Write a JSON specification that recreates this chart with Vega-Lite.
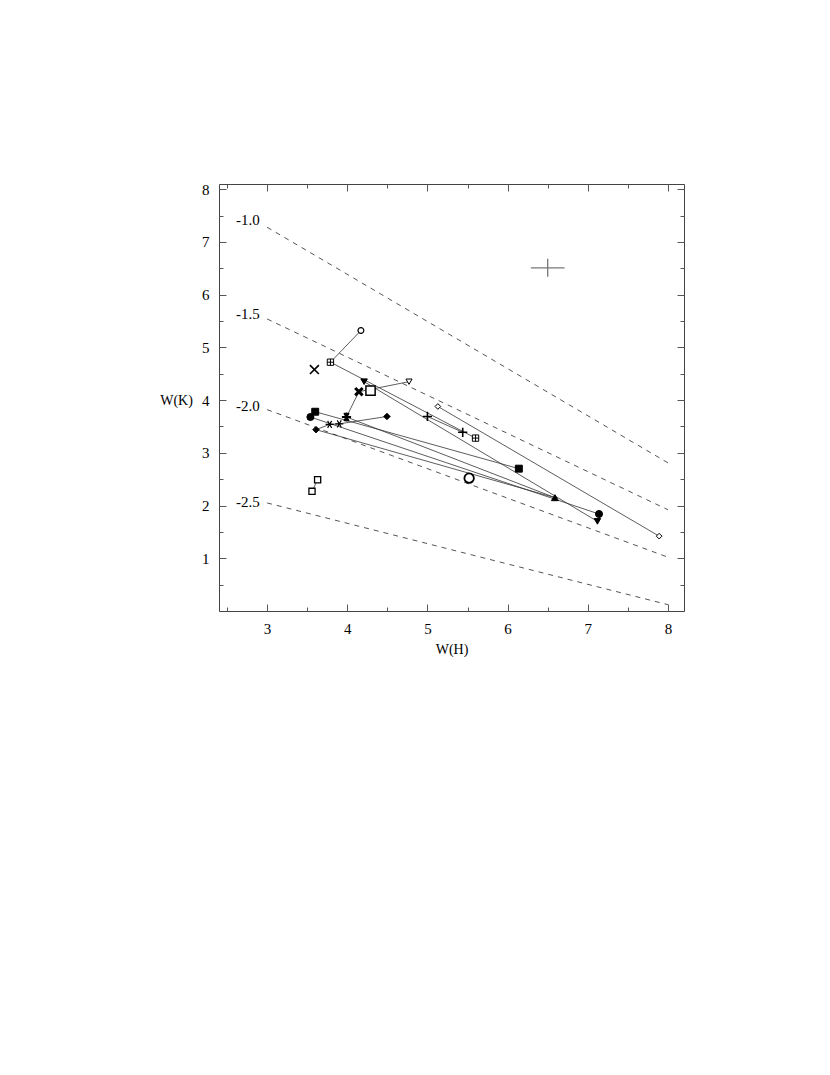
{
  "$schema": "https://vega.github.io/schema/vega-lite/v6.json",
  "width": 465,
  "height": 427,
  "autosize": {"type": "none"},
  "padding": {"left": 219, "top": 184, "right": 146, "bottom": 464},
  "background": "white",
  "config": {
    "view": {"stroke": "#444", "strokeWidth": 1},
    "font": "Liberation Serif",
    "axis": {
      "labelFont": "Liberation Serif", "titleFont": "Liberation Serif",
      "labelFontSize": 15, "titleFontSize": 14, "titleFontWeight": "normal",
      "labelColor": "black", "titleColor": "black",
      "domain": false, "grid": false, "tickColor": "#555", "tickWidth": 1
    }
  },
  "datasets": {
    "iso": [
      {"feh": "-1.0", "x": 3, "y": 7.28}, {"feh": "-1.0", "x": 8, "y": 2.81},
      {"feh": "-1.5", "x": 3, "y": 5.54}, {"feh": "-1.5", "x": 8, "y": 1.92},
      {"feh": "-2.0", "x": 3, "y": 3.82}, {"feh": "-2.0", "x": 8, "y": 1.02},
      {"feh": "-2.5", "x": 3, "y": 2.05}, {"feh": "-2.5", "x": 8, "y": 0.12}
    ],
    "isolab": [
      {"t": "-1.0", "x": 2.76, "y": 7.42},
      {"t": "-1.5", "x": 2.76, "y": 5.64},
      {"t": "-2.0", "x": 2.76, "y": 3.88},
      {"t": "-2.5", "x": 2.76, "y": 2.06}
    ],
    "err": [{"x": 6.29, "x2": 6.71, "xc": 6.5, "y": 6.34, "y2": 6.68, "yc": 6.51}],
    "seg": [
      {"s": 1, "o": 1, "x": 4.17, "y": 5.32}, {"s": 1, "o": 2, "x": 3.79, "y": 4.72},
      {"s": 2, "o": 1, "x": 3.79, "y": 4.72}, {"s": 2, "o": 2, "x": 5.60, "y": 3.28},
      {"s": 3, "o": 1, "x": 4.21, "y": 4.35}, {"s": 3, "o": 2, "x": 7.12, "y": 1.70},
      {"s": 4, "o": 1, "x": 5.00, "y": 3.69}, {"s": 4, "o": 2, "x": 5.44, "y": 3.39},
      {"s": 5, "o": 1, "x": 3.99, "y": 3.68}, {"s": 5, "o": 2, "x": 4.145, "y": 4.16}, {"s": 5, "o": 3, "x": 4.77, "y": 4.35},
      {"s": 6, "o": 1, "x": 3.61, "y": 3.44}, {"s": 6, "o": 2, "x": 3.78, "y": 3.54}, {"s": 6, "o": 3, "x": 3.90, "y": 3.55}, {"s": 6, "o": 4, "x": 4.495, "y": 3.69},
      {"s": 7, "o": 1, "x": 3.60, "y": 3.78}, {"s": 7, "o": 2, "x": 6.14, "y": 2.70},
      {"s": 8, "o": 1, "x": 3.54, "y": 3.68}, {"s": 8, "o": 2, "x": 7.14, "y": 1.84},
      {"s": 9, "o": 1, "x": 3.99, "y": 3.68}, {"s": 9, "o": 2, "x": 6.59, "y": 2.15},
      {"s": 10, "o": 1, "x": 3.61, "y": 3.44}, {"s": 10, "o": 2, "x": 6.59, "y": 2.15},
      {"s": 11, "o": 1, "x": 5.13, "y": 3.88}, {"s": 11, "o": 2, "x": 7.89, "y": 1.42},
      {"s": 12, "o": 1, "x": 3.63, "y": 2.49}, {"s": 12, "o": 2, "x": 3.56, "y": 2.27}
    ],
    "pts": [
      {"sym": "ocs", "x": 4.17, "y": 5.32},
      {"sym": "bplus", "x": 3.79, "y": 4.72}, {"sym": "bplus", "x": 5.60, "y": 3.28},
      {"sym": "bigx", "x": 3.59, "y": 4.58},
      {"sym": "tdf", "x": 4.21, "y": 4.35}, {"sym": "tdf", "x": 7.12, "y": 1.70},
      {"sym": "tdo", "x": 4.77, "y": 4.35},
      {"sym": "bigsq", "x": 4.29, "y": 4.18},
      {"sym": "boldx", "x": 4.145, "y": 4.16},
      {"sym": "bstar", "x": 3.99, "y": 3.68},
      {"sym": "dio", "x": 5.13, "y": 3.88}, {"sym": "dio", "x": 7.89, "y": 1.42},
      {"sym": "sqf", "x": 3.60, "y": 3.78}, {"sym": "sqf", "x": 6.14, "y": 2.70},
      {"sym": "cif", "x": 3.54, "y": 3.68}, {"sym": "cif", "x": 7.14, "y": 1.84},
      {"sym": "dif", "x": 3.61, "y": 3.44}, {"sym": "dif", "x": 4.495, "y": 3.69},
      {"sym": "plus", "x": 5.00, "y": 3.69}, {"sym": "plus", "x": 5.44, "y": 3.39},
      {"sym": "ast", "x": 3.78, "y": 3.54}, {"sym": "ast", "x": 3.90, "y": 3.55},
      {"sym": "tuf", "x": 6.59, "y": 2.15},
      {"sym": "sqo", "x": 3.63, "y": 2.49}, {"sym": "sqo", "x": 3.56, "y": 2.27},
      {"sym": "bigci", "x": 5.52, "y": 2.52}
    ]
  },
  "resolve": {"axis": {"x": "independent", "y": "independent"}},
  "layer": [
    {
      "data": {"name": "iso"},
      "mark": {"type": "line", "stroke": "#555", "strokeWidth": 1, "strokeDash": [5, 5]},
      "encoding": {
        "x": {"field": "x", "type": "quantitative",
              "scale": {"domain": [2.4, 8.2], "nice": false, "zero": false},
              "axis": {"orient": "bottom", "title": "W(H)", "titlePadding": 6,
                       "values": [2.5, 3, 3.5, 4, 4.5, 5, 5.5, 6, 6.5, 7, 7.5, 8],
                       "labelExpr": "datum.value % 1 === 0 ? format(datum.value, 'd') : ''",
                       "tickSize": {"condition": {"test": "datum.value % 1 !== 0", "value": -4}, "value": -7},
                       "labelPadding": 17}},
        "y": {"field": "y", "type": "quantitative",
              "scale": {"domain": [0, 8.1], "nice": false, "zero": false},
              "axis": {"orient": "left", "title": "W(K)", "titleAngle": 0,
                       "titleX": -43, "titleY": 216, "titleAlign": "center", "titleBaseline": "middle",
                       "values": [0.5, 1, 1.5, 2, 2.5, 3, 3.5, 4, 4.5, 5, 5.5, 6, 6.5, 7, 7.5, 8],
                       "labelExpr": "datum.value % 1 === 0 ? format(datum.value, 'd') : ''",
                       "tickSize": {"condition": {"test": "datum.value % 1 !== 0", "value": -4}, "value": -7},
                       "labelPadding": 17}},
        "detail": {"field": "feh"}
      }
    },
    {
      "data": {"name": "err"},
      "mark": {"type": "rule", "stroke": "#777", "strokeWidth": 1.3},
      "encoding": {
        "x": {"field": "x", "type": "quantitative",
              "axis": {"orient": "top", "title": null, "labels": false,
                       "values": [2.5, 3, 3.5, 4, 4.5, 5, 5.5, 6, 6.5, 7, 7.5, 8],
                       "tickSize": {"condition": {"test": "datum.value % 1 !== 0", "value": -4}, "value": -7}}},
        "x2": {"field": "x2"},
        "y": {"field": "yc", "type": "quantitative",
              "axis": {"orient": "right", "title": null, "labels": false,
                       "values": [0.5, 1, 1.5, 2, 2.5, 3, 3.5, 4, 4.5, 5, 5.5, 6, 6.5, 7, 7.5, 8],
                       "tickSize": {"condition": {"test": "datum.value % 1 !== 0", "value": -4}, "value": -7}}}
      }
    },
    {
      "data": {"name": "err"},
      "mark": {"type": "rule", "stroke": "#777", "strokeWidth": 1.3},
      "encoding": {
        "x": {"field": "xc", "type": "quantitative", "axis": null},
        "y": {"field": "y", "type": "quantitative", "axis": null},
        "y2": {"field": "y2"}
      }
    },
    {
      "data": {"name": "isolab"},
      "mark": {"type": "text", "font": "Liberation Serif", "fontSize": 15, "align": "center", "baseline": "middle"},
      "encoding": {
        "x": {"field": "x", "type": "quantitative", "axis": null},
        "y": {"field": "y", "type": "quantitative", "axis": null},
        "text": {"field": "t"}
      }
    },
    {
      "data": {"name": "seg"},
      "mark": {"type": "line", "stroke": "#333", "strokeWidth": 0.8},
      "encoding": {
        "x": {"field": "x", "type": "quantitative", "axis": null},
        "y": {"field": "y", "type": "quantitative", "axis": null},
        "detail": {"field": "s"},
        "order": {"field": "o"}
      }
    },
    {
      "data": {"name": "pts"},
      "mark": {"type": "point", "filled": true, "stroke": "black", "opacity": 1},
      "encoding": {
        "x": {"field": "x", "type": "quantitative", "axis": null},
        "y": {"field": "y", "type": "quantitative", "axis": null},
        "shape": {"field": "sym", "type": "nominal", "legend": null,
          "scale": {
            "domain": ["ocs", "bplus", "bigx", "tdf", "tdo", "bigsq", "boldx", "bstar", "dio", "sqf", "cif", "dif", "plus", "ast", "tuf", "sqo", "bigci"],
            "range": ["circle",
                      "M-1,-1H1V1H-1Z M-1,0H1 M0,-1V1",
                      "M-1,-1L1,1 M-1,1L1,-1",
                      "triangle-down", "triangle-down", "square",
                      "M-1,-1L1,1 M-1,1L1,-1",
                      "M-1,0H1 M-0.5,-0.87L0.5,0.87 M-0.5,0.87L0.5,-0.87 M0,-1V1",
                      "diamond", "square", "circle", "diamond",
                      "M-1,0H1 M0,-1V1",
                      "M-1,0H1 M-0.5,-0.87L0.5,0.87 M-0.5,0.87L0.5,-0.87",
                      "triangle-up", "square", "circle"]}},
        "size": {"field": "sym", "type": "nominal", "legend": null,
          "scale": {"type": "ordinal",
            "domain": ["ocs", "bplus", "bigx", "tdf", "tdo", "bigsq", "boldx", "bstar", "dio", "sqf", "cif", "dif", "plus", "ast", "tuf", "sqo", "bigci"],
            "range": [34, 40, 80, 42, 38, 85, 55, 85, 32, 48, 50, 42, 85, 65, 48, 38, 90]}},
        "fill": {"field": "sym", "type": "nominal", "legend": null,
          "scale": {
            "domain": ["ocs", "bplus", "bigx", "tdf", "tdo", "bigsq", "boldx", "bstar", "dio", "sqf", "cif", "dif", "plus", "ast", "tuf", "sqo", "bigci"],
            "range": ["white", "white", "black", "black", "white", "white", "black", "black", "white", "black", "black", "black", "black", "black", "black", "white", "white"]}},
        "strokeWidth": {"field": "sym", "type": "nominal", "legend": null,
          "scale": {"type": "ordinal",
            "domain": ["ocs", "bplus", "bigx", "tdf", "tdo", "bigsq", "boldx", "bstar", "dio", "sqf", "cif", "dif", "plus", "ast", "tuf", "sqo", "bigci"],
            "range": [1.2, 1, 1.6, 1, 1, 1.5, 3, 1.9, 1, 1, 1, 1, 1.6, 1.1, 1, 1.3, 1.8]}}
      }
    }
  ]
}
